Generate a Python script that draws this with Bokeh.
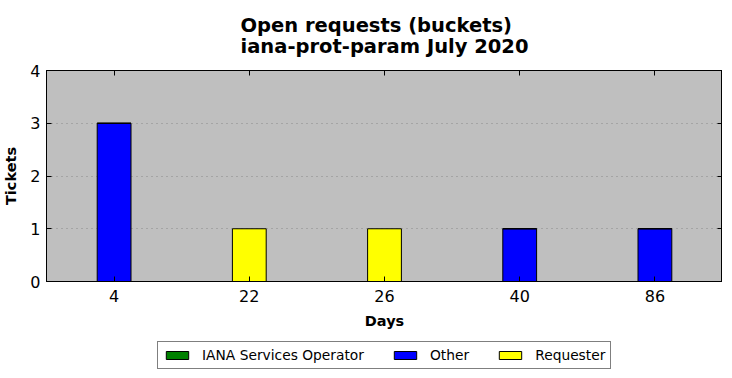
from bokeh.plotting import figure
from bokeh.layouts import column
from bokeh.models import Title, Legend, LinearAxis, CategoricalAxis, Range1d, FixedTicker
from bokeh.embed import file_html
from bokeh.resources import INLINE

days = ["4", "22", "26", "40", "86"]
iana = [0, 0, 0, 0, 0]
other = [3, 0, 0, 1, 1]
requester = [0, 1, 1, 0, 0]
series = ["IANA Services Operator", "Other", "Requester"]
colors = ["green", "blue", "yellow"]
y_ticks = [0, 1, 2, 3, 4]

FONT = "DejaVu Sans"

p = figure(x_range=days, y_range=Range1d(0, 4), frame_width=676, frame_height=211,
           output_backend="svg", toolbar_location=None,
           min_border_left=0, min_border_right=0, min_border_top=0, min_border_bottom=55)
p.border_fill_color = "white"
p.background_fill_color = "#bfbfbf"
p.outline_line_color = "black"
p.outline_line_width = 1

data = {"days": days, series[0]: iana, series[1]: other, series[2]: requester}
p.vbar_stack(series, x="days", width=0.25, color=colors, line_color="black",
             line_width=1, source=data)

p.xaxis.axis_label = "Days"
p.yaxis.axis_label = "Tickets"
for ax in (p.xaxis[0], p.yaxis[0]):
    ax.axis_label_text_font = FONT
    ax.axis_label_text_font_style = "bold"
    ax.axis_label_text_font_size = "14.5px"
    ax.axis_label_text_color = "black"
    ax.major_label_text_font = FONT
    ax.major_label_text_font_size = "16px"
    ax.major_label_text_color = "black"
    ax.major_tick_in = 5
    ax.major_tick_out = 0
    ax.minor_tick_in = 0
    ax.minor_tick_out = 0
    ax.axis_line_color = "black"
p.yaxis.ticker = FixedTicker(ticks=y_ticks)
p.yaxis.major_label_standoff = 6
p.yaxis.axis_label_standoff = 8
p.xaxis.major_label_standoff = 8
p.xaxis.axis_label_standoff = 8

top_ax = CategoricalAxis(major_label_text_color=None, major_label_text_font_size="2px",
                         major_tick_in=5, major_tick_out=0,
                         axis_line_color="black", major_label_standoff=0)
p.add_layout(top_ax, "above")
right_ax = LinearAxis(ticker=FixedTicker(ticks=y_ticks), major_label_text_color=None,
                      major_label_text_font_size="2px",
                      major_tick_in=5, major_tick_out=0, minor_tick_in=0, minor_tick_out=0,
                      axis_line_color="black", major_label_standoff=0)
p.add_layout(right_ax, "right")

p.xgrid.grid_line_color = None
p.ygrid.grid_line_color = "#888888"
p.ygrid.grid_line_dash = "1 4"
p.ygrid.grid_line_width = 1

p.add_layout(Title(text="Open requests (buckets)\niana-prot-param July 2020", align="center",
                   text_font=FONT, text_font_size="19.5px", text_font_style="bold",
                   text_color="black", text_line_height=0.93, standoff=24), "above")

# legend strip under the chart (hidden proxy renderers carry the legend glyphs)
lg = figure(width=716, height=33, x_range=days, y_range=Range1d(0, 4),
            x_axis_type=None, y_axis_type=None, output_backend="svg",
            toolbar_location=None, min_border_left=0, min_border_right=0,
            min_border_top=0, min_border_bottom=0)
lg.outline_line_color = None
lg.background_fill_color = "white"
lg.border_fill_color = "white"
proxies = lg.vbar_stack(series, x="days", width=0.25, color=colors, line_color="black",
                        line_width=1, source=data)
for r in proxies:
    r.visible = False
legend = Legend(items=[(s, [r]) for s, r in zip(series, proxies)], orientation="horizontal",
                location=(111, 0), border_line_color="black", border_line_width=1,
                label_text_font=FONT, label_text_font_size="13.8px", label_text_color="black",
                glyph_width=28, glyph_height=10, label_height=13, spacing=27, padding=5,
                margin=0, label_standoff=11, background_fill_color="white",
                background_fill_alpha=1, inactive_fill_alpha=0)
lg.add_layout(legend, "center")

layout = column(p, lg, spacing=0)
open("out.html", "w").write(file_html(layout, INLINE))
